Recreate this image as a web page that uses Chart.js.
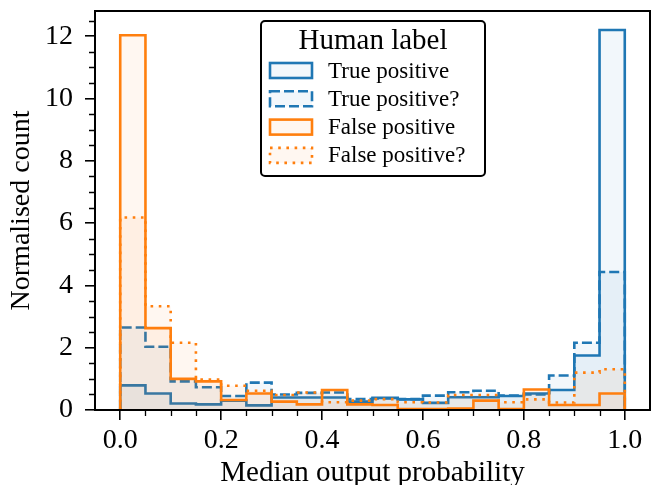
<!DOCTYPE html>
<html>
<head>
<meta charset="utf-8">
<script src="https://cdn.jsdelivr.net/npm/chart.js@4.4.1/dist/chart.umd.min.js"></script>
<style>
  html, body { margin: 0; padding: 0; background: #fff; }
  #contenedor { width: 651px; height: 485px; }
</style>
</head>
<body>
<div id="contenedor"><canvas id="grafico"></canvas></div>
<script>
// bordes de los bins del histograma (20 bins de 0.05)
const bordesBins = [0.00, 0.05, 0.10, 0.15, 0.20, 0.25, 0.30, 0.35, 0.40, 0.45, 0.50,
                    0.55, 0.60, 0.65, 0.70, 0.75, 0.80, 0.85, 0.90, 0.95, 1.00];

// cuentas normalizadas
const verdaderoPositivo      = [0.79, 0.53, 0.21, 0.18, 0.30, 0.15, 0.40, 0.40, 0.40, 0.27,
                                0.39, 0.34, 0.23, 0.41, 0.41, 0.45, 0.53, 0.64, 1.75, 12.20];
const verdaderoPositivoDuda  = [2.65, 2.03, 0.92, 0.73, 0.45, 0.88, 0.50, 0.55, 0.56, 0.35,
                                0.37, 0.35, 0.46, 0.57, 0.62, 0.46, 0.50, 1.11, 2.16, 4.43];
const falsoPositivo          = [12.03, 2.63, 1.00, 0.92, 0.32, 0.53, 0.27, 0.18, 0.64, 0.18,
                                0.16, 0.03, 0.03, 0.05, 0.30, 0.03, 0.66, 0.16, 0.16, 0.53];
const falsoPositivoDuda      = [6.18, 3.33, 2.16, 0.98, 0.78, 0.62, 0.48, 0.56, 0.25, 0.30,
                                0.35, 0.25, 0.24, 0.48, 0.48, 0.25, 0.34, 0.24, 1.20, 1.31];

const etiquetasSeries = ["True positive", "True positive?", "False positive", "False positive?"];
const tituloLeyenda = "Human label";
const ticksX = [0.0, 0.2, 0.4, 0.6, 0.8, 1.0];
const ticksY = [0, 2, 4, 6, 8, 10, 12];

const AZUL = "#1f77b4";
const NARANJA = "#ff7f0e";
const FUENTE = "'Liberation Serif', 'Times New Roman', serif";

// convierte un histograma en puntos para una linea escalonada
function escalones(valores) {
  const puntos = [{ x: bordesBins[0], y: 0 }];
  for (let i = 0; i < valores.length; i++) {
    puntos.push({ x: bordesBins[i], y: valores[i] });
  }
  puntos.push({ x: bordesBins[bordesBins.length - 1], y: 0 });
  return puntos;
}

function serie(etiqueta, valores, color, relleno, guiones, orden) {
  return {
    label: etiqueta,
    data: escalones(valores),
    stepped: "before",
    borderColor: color,
    backgroundColor: relleno,
    borderWidth: 2.6,
    borderDash: guiones,
    pointRadius: 0,
    fill: "origin",
    order: orden,
  };
}

const datasets = [
  serie(etiquetasSeries[0], verdaderoPositivo, AZUL, "rgba(31,119,180,0.06)", [], 4),
  serie(etiquetasSeries[1], verdaderoPositivoDuda, AZUL, "rgba(31,119,180,0.06)", [10, 4], 3),
  serie(etiquetasSeries[2], falsoPositivo, NARANJA, "rgba(255,127,14,0.06)", [], 2),
  serie(etiquetasSeries[3], falsoPositivoDuda, NARANJA, "rgba(255,127,14,0.06)", [2.6, 5.6], 1),
];

// ticks menores, marco y leyenda dentro del area
const extras = {
  id: "extras",
  afterDraw(chart) {
    const ctx = chart.ctx;
    const area = chart.chartArea;
    const sx = chart.scales.x;
    const sy = chart.scales.y;
    ctx.save();
    ctx.strokeStyle = "#000";
    ctx.lineWidth = 1.3;
    ctx.beginPath();
    for (let k = 1; k < 20; k++) {
      if (k % 4 === 0) continue;
      const px = Math.round(sx.getPixelForValue(k * 0.05)) + 0.5;
      ctx.moveTo(px, area.bottom);
      ctx.lineTo(px, area.bottom + 6);
    }
    for (let k = 1; k <= 25; k++) {
      if (k % 4 === 0) continue;
      const py = Math.round(sy.getPixelForValue(k * 0.5)) + 0.5;
      ctx.moveTo(area.left, py);
      ctx.lineTo(area.left - 6, py);
    }
    ctx.stroke();

    // marco
    ctx.lineWidth = 2;
    ctx.strokeRect(area.left, area.top, area.right - area.left, area.bottom - area.top);

    // leyenda
    const lx = 261, ly = 21, lw = 224, lh = 155;
    ctx.fillStyle = "#fff";
    ctx.beginPath();
    ctx.roundRect(lx, ly, lw, lh, 4);
    ctx.fill();
    ctx.lineWidth = 2;
    ctx.strokeStyle = "#000";
    ctx.stroke();

    ctx.fillStyle = "#000";
    ctx.textBaseline = "middle";
    ctx.textAlign = "center";
    ctx.font = "29px " + FUENTE;
    ctx.fillText(tituloLeyenda, lx + lw / 2, 41);

    ctx.textAlign = "left";
    ctx.font = "23px " + FUENTE;
    chart.data.datasets.forEach((ds, i) => {
      const cy = 70.5 + i * 28.3;
      ctx.fillStyle = ds.backgroundColor;
      ctx.fillRect(270, cy - 7.5, 42, 15);
      ctx.strokeStyle = ds.borderColor;
      ctx.lineWidth = 2.6;
      ctx.setLineDash(ds.borderDash);
      ctx.strokeRect(270, cy - 7.5, 42, 15);
      ctx.setLineDash([]);
      ctx.fillStyle = "#000";
      ctx.fillText(ds.label, 328, cy + 1);
    });
    ctx.restore();
  },
};

new Chart(document.getElementById("grafico"), {
  type: "line",
  data: { datasets: datasets },
  options: {
    responsive: true,
    maintainAspectRatio: false,
    animation: false,
    devicePixelRatio: 1,
    layout: { padding: { top: 11, right: 1, left: 0, bottom: 0 } },
    plugins: { legend: { display: false }, tooltip: { enabled: false } },
    scales: {
      x: {
        type: "linear",
        min: -0.05,
        max: 1.05,
        afterBuildTicks: (eje) => { eje.ticks = ticksX.map(v => ({ value: v })); },
        afterFit: (eje) => { eje.height = 75; eje.paddingLeft = 0; eje.paddingRight = 0; },
        grid: { display: true, drawOnChartArea: false, tickLength: 10, color: "#000", lineWidth: 1.6 },
        border: { display: true, color: "#000", width: 2 },
        ticks: {
          color: "#000",
          padding: 4,
          maxRotation: 0,
          font: { family: FUENTE, size: 28 },
          callback: (v) => Number(v).toFixed(1),
        },
        title: {
          display: true,
          text: "Median output probability",
          color: "#000",
          font: { family: FUENTE, size: 29, lineHeight: 1 },
          padding: { top: 0, bottom: -3 },
        },
      },
      y: {
        type: "linear",
        min: 0,
        max: 12.81,
        afterBuildTicks: (eje) => { eje.ticks = ticksY.map(v => ({ value: v })); },
        afterFit: (eje) => { eje.width = 95; eje.paddingTop = 0; eje.paddingBottom = 0; },
        grid: { display: true, drawOnChartArea: false, tickLength: 10, color: "#000", lineWidth: 1.6 },
        border: { display: true, color: "#000", width: 2 },
        ticks: {
          color: "#000",
          padding: 12,
          font: { family: FUENTE, size: 28 },
          callback: (v) => String(v),
        },
        title: {
          display: true,
          text: "Normalised count",
          color: "#000",
          font: { family: FUENTE, size: 28, lineHeight: 1 },
          padding: { top: 8, bottom: 0 },
        },
      },
    },
  },
  plugins: [extras],
});
</script>
</body>
</html>
